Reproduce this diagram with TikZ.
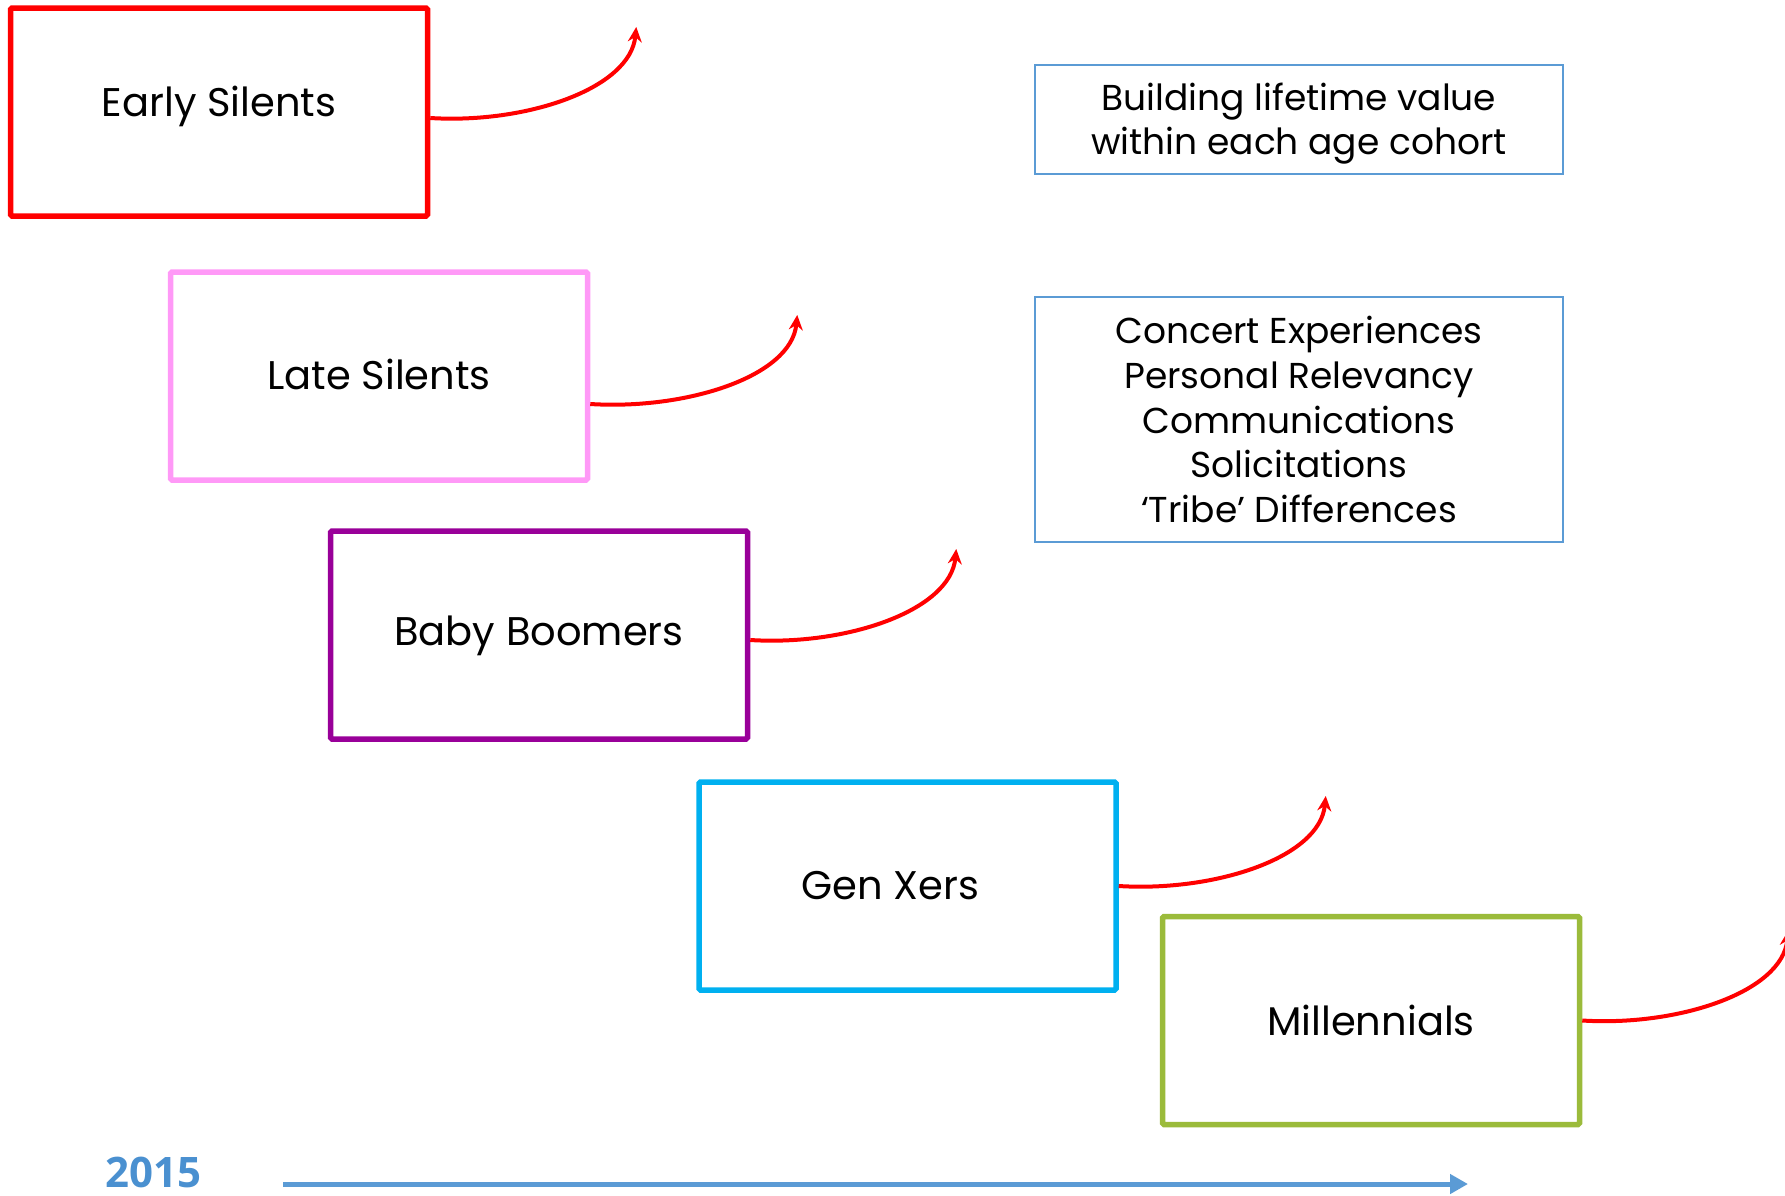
\documentclass[tikz,border=0pt]{standalone}
\usepackage{fontspec}
\setmainfont{Poppins}
\newfontfamily\yearfont{Open Sans}
\usetikzlibrary{arrows.meta}

\definecolor{cohortred}{HTML}{FF0000}
\definecolor{cohortpink}{HTML}{FF99F7}
\definecolor{cohortpurple}{HTML}{990099}
\definecolor{cohortcyan}{HTML}{00B0F0}
\definecolor{cohortgreen}{HTML}{9BBB3B}
\definecolor{noteblue}{HTML}{5B9BD5}
\definecolor{yearblue}{HTML}{4A90D0}

\tikzset{
  cohort/.style={draw=#1, line width=5.5pt, rounded corners=1.5pt,
    minimum width=417pt, minimum height=208pt, inner sep=0pt},
  cohortlabel/.style={inner sep=0pt, font=\fontsize{40}{46}\selectfont},
  note/.style={draw=noteblue, line width=1.8pt, minimum width=528pt,
    align=center, inner sep=0pt, font=\fontsize{36}{44.7}\selectfont},
  notetext/.style={align=center, inner sep=0pt, font=\fontsize{36}{44.7}\selectfont},
  growth/.style={cohortred, line width=4pt,
    -{Stealth[length=15pt,width=14pt,inset=5pt]}},
  timeline/.style={noteblue, line width=5pt,
    -{Triangle[length=18pt,width=19pt]}}
}

\begin{document}
\begin{tikzpicture}[x=1pt,y=-1pt]
\useasboundingbox (0,0) rectangle (1785,1195);

% cohort boxes
\node[cohort=cohortred]    (early)   at (219,112)    {};
\node[cohort=cohortpink]   (late)    at (379,376)    {};
\node[cohort=cohortpurple] (boomers) at (539,635)    {};
\node[cohort=cohortcyan]   (genx)    at (907.5,886)  {};
\node[cohort=cohortgreen]  (millen)  at (1371,1020.5) {};

% cohort names
\node[cohortlabel] (earlytxt)   at ([yshift=6pt]early.center)    {Early Silents};
\node[cohortlabel] (latetxt)    at ([yshift=2pt]late.center)     {Late Silents};
\node[cohortlabel] (boomerstxt) at ([yshift=-1pt]boomers.center) {Baby Boomers};
\node[cohortlabel] (genxtxt)    at ([xshift=-17pt]genx.center)   {Gen Xers};
\node[cohortlabel] (millentxt)  at (millen.center)               {Millennials};

% rising value arrows leaving each cohort
\draw[growth] ([yshift=-6pt]early.east)
  .. controls +(95,6) and +(-6,62) .. +(206,-91);
\draw[growth] ([yshift=-28pt]late.east)
  .. controls +(95,6) and +(-6,62) .. +(207,-89);
\draw[growth] ([yshift=-5pt]boomers.east)
  .. controls +(95,6) and +(-6,62) .. +(206,-91);
\draw[growth] (genx.east)
  .. controls +(95,6) and +(-6,62) .. +(207,-90);
\draw[growth] (millen.east)
  .. controls +(95,6) and +(-6,62) .. +(206,-90);

% notes
\node[note, minimum height=109pt] (goal) at (1299,119.5) {};
\node[notetext] (goaltxt) at ([yshift=-4pt]goal.center)
  {Building lifetime value\\within each age cohort};
\node[note, minimum height=245pt] (topics) at (1299,419.5)
  {Concert Experiences\\Personal Relevancy\\Communications\\Solicitations\\‘Tribe’ Differences};

% time axis
\node[anchor=base west, inner sep=0pt, text=yearblue,
  font=\yearfont\bfseries\fontsize{42}{42}\selectfont] (year) at (105,1187) {2015};
\coordinate (axisstart) at (283,1184);
\coordinate (axisend) at (1468,1184);
\draw[timeline] (axisstart) -- (axisend);
\end{tikzpicture}
\end{document}
